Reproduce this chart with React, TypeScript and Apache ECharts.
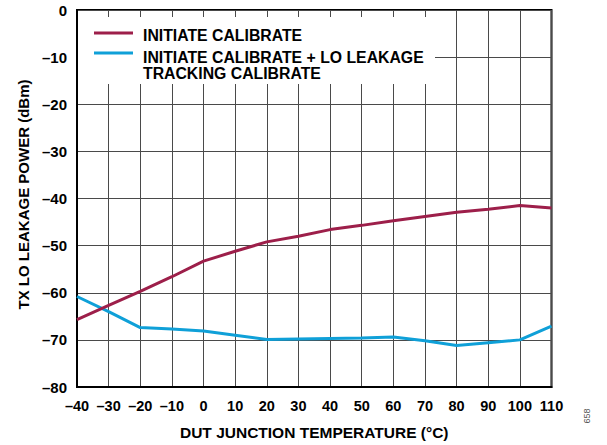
import React, { useEffect, useRef } from "react";
import * as echarts from "echarts";

const temps = [-40, -30, -20, -10, 0, 10, 20, 30, 40, 50, 60, 70, 80, 90, 100, 110];
const initiateCal = [-65.7, -62.7, -59.7, -56.6, -53.3, -51.2, -49.2, -48.0, -46.6, -45.7, -44.7, -43.8, -42.9, -42.3, -41.5, -42.0];
const trackingCal = [-60.8, -64.0, -67.4, -67.7, -68.1, -69.0, -69.9, -69.8, -69.7, -69.6, -69.4, -70.2, -71.2, -70.6, -70.0, -67.1];
const legendNames = ["INITIATE CALIBRATE", "INITIATE CALIBRATE + LO LEAKAGE", "TRACKING CALIBRATE"];
const xTitle = "DUT JUNCTION TEMPERATURE (°C)";
const yTitle = "TX LO LEAKAGE POWER (dBm)";

const RED = "#9d1f4a";
const BLUE = "#0fa0d8";
const REG = "'Liberation Sans', Arial, Helvetica, sans-serif";

const fmt = (v: number) => (v < 0 ? "\u2013" + Math.abs(v) : String(v));

export default function App() {
  const ref = useRef<HTMLDivElement>(null);
  useEffect(() => {
    document.body.style.margin = "0";
    const chart = echarts.init(ref.current!, null, { renderer: "svg" });
    const legendFont = { fontFamily: REG, fontWeight: "bold" as const, fontSize: 15.8, fill: "#000", verticalAlign: "middle" as const };
    chart.setOption({
      animation: false,
      backgroundColor: "#ffffff",
      grid: { left: 77, right: 55.5, top: 10, bottom: 55.7, show: true, borderColor: "#000", borderWidth: 2, backgroundColor: "transparent" },
      xAxis: {
        type: "value",
        min: -40,
        max: 110,
        interval: 10,
        name: xTitle,
        nameLocation: "middle",
        nameGap: 37,
        nameTextStyle: { fontFamily: REG, fontWeight: "bold", fontSize: 15.5, color: "#000" },
        axisLine: { show: true, onZero: false, lineStyle: { color: "#000", width: 2 } },
        axisTick: { show: false },
        axisLabel: { formatter: fmt, fontFamily: REG, fontWeight: "bold", fontSize: 14.5, color: "#000", margin: 11 },
        splitLine: { show: true, lineStyle: { color: "#4a4a4a", width: 1 } },
      },
      yAxis: {
        type: "value",
        min: -80,
        max: 0,
        interval: 10,
        name: yTitle,
        nameLocation: "middle",
        nameGap: 45.5,
        nameRotate: 90,
        nameTextStyle: { fontFamily: REG, fontWeight: "bold", fontSize: 15, color: "#000", padding: [0, 0, 0, 8] },
        axisLine: { show: true, onZero: false, lineStyle: { color: "#000", width: 2 } },
        axisTick: { show: false },
        axisLabel: { formatter: fmt, fontFamily: REG, fontWeight: "bold", fontSize: 15, color: "#000", margin: 10 },
        splitLine: { show: true, lineStyle: { color: "#4a4a4a", width: 1 } },
      },
      series: [
        {
          name: legendNames[0],
          type: "line",
          data: temps.map((t, i) => [t, initiateCal[i]]),
          showSymbol: false,
          lineStyle: { color: RED, width: 3 },
          itemStyle: { color: RED },
          z: 5,
        },
        {
          name: legendNames[1] + " " + legendNames[2],
          type: "line",
          data: temps.map((t, i) => [t, trackingCal[i]]),
          showSymbol: false,
          lineStyle: { color: BLUE, width: 3 },
          itemStyle: { color: BLUE },
          z: 4,
        },
      ],
      graphic: [
        { type: "rect", shape: { x: 78, y: 17, width: 357, height: 67 }, style: { fill: "#fff" }, z: 10 },
        { type: "line", shape: { x1: 94, y1: 33, x2: 133, y2: 33 }, style: { stroke: RED, lineWidth: 3 }, z: 11 },
        { type: "text", x: 143, y: 35, style: { ...legendFont, text: legendNames[0] }, z: 11 },
        { type: "line", shape: { x1: 94, y1: 53, x2: 133, y2: 53 }, style: { stroke: BLUE, lineWidth: 3 }, z: 11 },
        { type: "text", x: 143, y: 57, style: { ...legendFont, text: legendNames[1] }, z: 11 },
        { type: "text", x: 143, y: 73, style: { ...legendFont, text: legendNames[2] }, z: 11 },
        { type: "text", x: 587, y: 416, rotation: Math.PI / 2, style: { text: "658", fontFamily: REG, fontSize: 9, fill: "#555", align: "center", verticalAlign: "middle" }, z: 11 },
      ],
    });
    return () => chart.dispose();
  }, []);
  return <div ref={ref} style={{ width: 607, height: 445 }} />;
}
